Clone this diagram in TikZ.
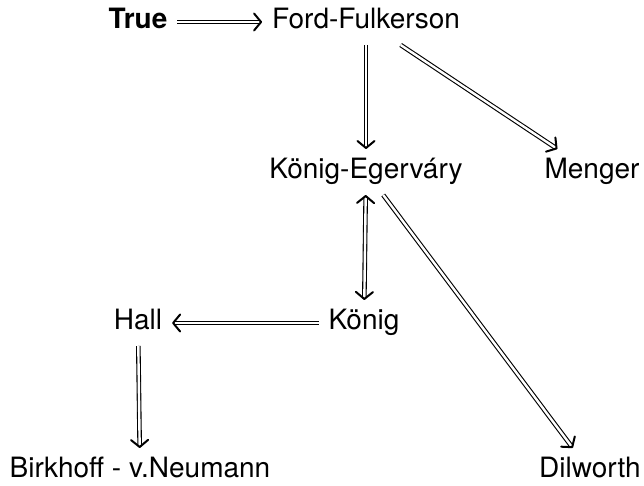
\documentclass[tikz,border=0pt]{standalone}
\usepackage{fontspec}
\setmainfont{TeX Gyre Heros}
\usetikzlibrary{arrows.meta}
\begin{document}
\begin{tikzpicture}[x=0.5pt, y=-0.5pt,
    thm/.style={font=\fontsize{14}{16}\selectfont, text height=10pt, text depth=3pt, inner sep=4pt, outer sep=1pt},
    tip/.tip={Straight Barb[length=3.5pt, width=8.5pt, line width=1pt, round]},
    imp/.style={double, double distance=1.2pt, line width=0.55pt, -tip}]
    \useasboundingbox (0,0) rectangle (644,486);

    \node[thm] (true)   at (138, 22)  {\textbf{True}};
    \node[thm] (ff)     at (366, 22)  {Ford-Fulkerson};
    \node[thm] (ke)     at (366, 172) {König-Egerváry};
    \node[thm] (menger) at (592, 172) {Menger};
    \node[thm] (konig)  at (364, 323) {König};
    \node[thm] (hall)   at (138, 323) {Hall};
    \node[thm] (birk)   at (140, 471) {Birkhoff - v.Neumann};
    \node[thm] (dil)    at (590, 471) {Dilworth};

    \draw[imp] (true) -- (ff);
    \draw[imp] (ff) -- (ke);
    \draw[imp] (ff) -- (menger);
    \draw[imp, tip-tip] (ke) -- (konig);
    \draw[imp] (ke) -- (dil);
    \draw[imp] (konig) -- (hall);
    \draw[imp] (hall) -- (birk);
\end{tikzpicture}
\end{document}
